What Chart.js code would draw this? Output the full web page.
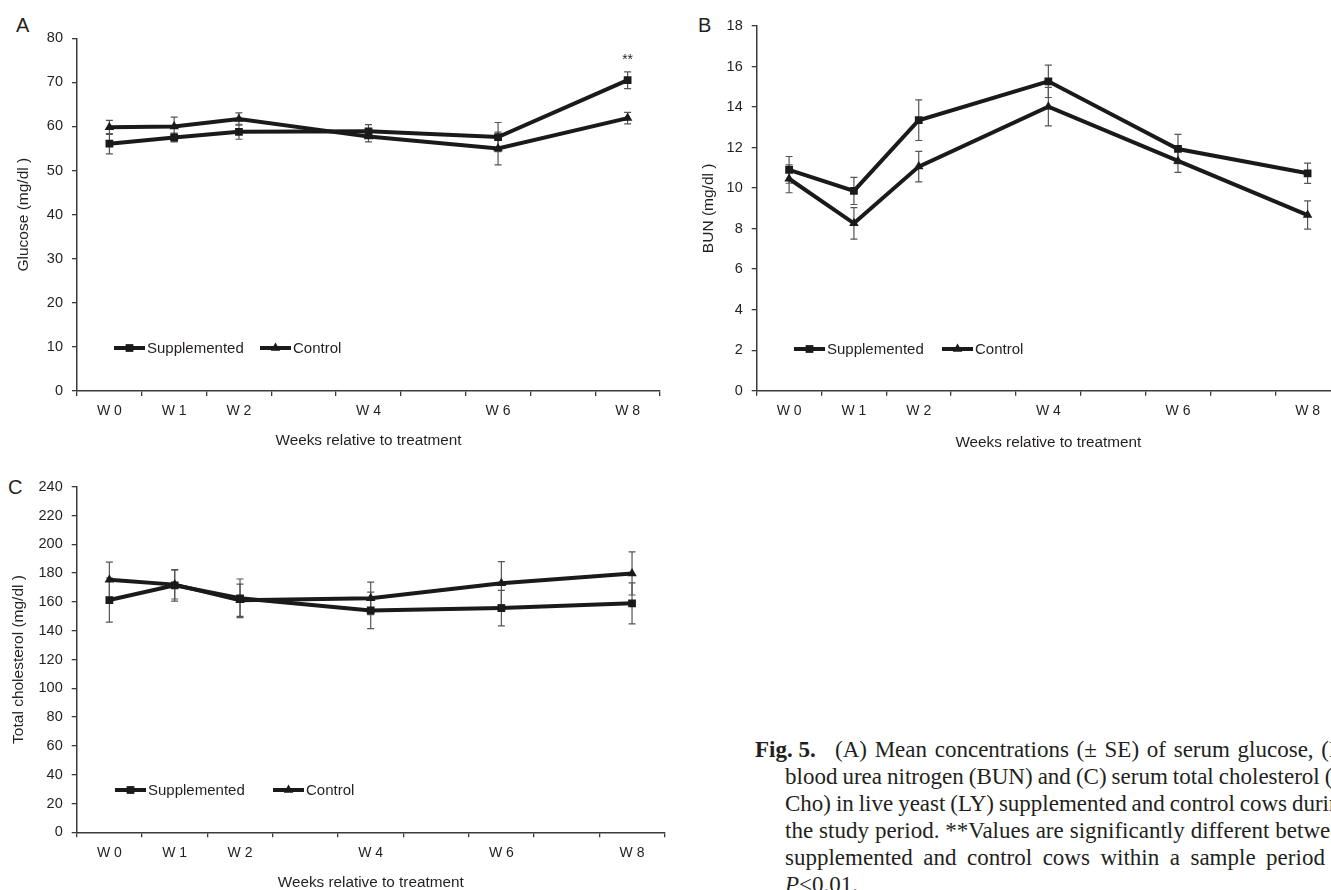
<!DOCTYPE html>
<html>
<head>
<meta charset="utf-8">
<script src="https://cdn.jsdelivr.net/npm/chart.js@4.4.0/dist/chart.umd.min.js"></script>
<style>
  html, body { margin: 0; padding: 0; background: #fff; overflow: hidden; width: 1331px; height: 890px; position: relative; }
  canvas { position: absolute; }
  .tag { position: absolute; font: 20px "Liberation Sans", Arial, sans-serif; color: #231f20; line-height: 20px; }
  .cap { position: absolute; white-space: nowrap; line-height: 27px; font-family: "Liberation Serif", "Times New Roman", serif; font-size: 23px; color: #231f20; }
</style>
</head>
<body>
<div class="tag" style="left:16px; top:15px;">A</div>
<div class="tag" style="left:698px; top:15px;">B</div>
<div class="tag" style="left:8px; top:477px;">C</div>

<canvas id="glucoseChart" width="680" height="460" style="left:0; top:0;"></canvas>
<canvas id="bunChart" width="680" height="460" style="left:680px; top:0;"></canvas>
<canvas id="choChart" width="690" height="460" style="left:0; top:450px;"></canvas>

<div class="cap" style="left:755px; top:736px;"><b>Fig. 5.</b></div>
<div class="cap fit" data-w="517" style="left:835px; top:736px;">(A) Mean concentrations (± SE) of serum glucose, (B)</div>
<div class="cap fit" data-w="567" style="left:785px; top:763px;">blood urea nitrogen (BUN) and (C) serum total cholesterol (T-</div>
<div class="cap fit" data-w="567" style="left:785px; top:790px;">Cho) in live yeast (LY) supplemented and control cows during</div>
<div class="cap fit" data-w="567" style="left:785px; top:817px;">the study period. **Values are significantly different between</div>
<div class="cap fit" data-w="567" style="left:785px; top:844px;">supplemented and control cows within a sample period at</div>
<div class="cap" style="left:785px; top:871px;"><i>P</i>&lt;0.01.</div>

<script>
// weeks on the x axis; only sampled weeks get a label
const allWeeks = ['W 0', 'W 1', 'W 2', 'W 3', 'W 4', 'W 5', 'W 6', 'W 7', 'W 8']
const sampledWeeks = ['W 0', 'W 1', 'W 2', 'W 4', 'W 6', 'W 8']

// (A) glucose, mg/dl
const glucoseSupplemented = [56.1, 57.5, 58.8, 58.9, 57.6, 70.5]
const glucoseSupplementedSE = [2.3, 1.0, 1.7, 1.5, 3.3, 1.9]
const glucoseControl = [59.8, 60.0, 61.7, 57.7, 55.0, 61.9]
const glucoseControlSE = [1.6, 2.1, 1.4, 1.2, 3.7, 1.3]
const glucoseSignificant = ['W 8']
const glucoseAxis = [0, 80, 10]

// (B) BUN, mg/dl
const bunSupplemented = [10.9, 9.86, 13.35, 15.27, 11.93, 10.73]
const bunSupplementedSE = [0.66, 0.67, 1.0, 0.8, 0.72, 0.5]
const bunControl = [10.46, 8.26, 11.06, 14.02, 11.34, 8.67]
const bunControlSE = [0.69, 0.78, 0.75, 0.95, 0.56, 0.7]
const bunAxis = [0, 18, 2]

// (C) total cholesterol, mg/dl
const choSupplemented = [161.3, 171.5, 162.5, 154.1, 155.7, 159.0]
const choSupplementedSE = [15.3, 11, 13.4, 12.7, 12.3, 14.2]
const choControl = [175.4, 172.0, 161.2, 162.5, 172.9, 179.8]
const choControlSE = [12.2, 10, 11.2, 11.3, 15.0, 15.0]
const choAxis = [0, 240, 20]

const ink = '#231f20'
const axisInk = '#3a3a3a'
const sans = '"Liberation Sans", Arial, sans-serif'

const errorBars = {
  id: 'errorBars',
  beforeDatasetsDraw(chart) {
    const { ctx } = chart
    const y = chart.scales.y
    ctx.save()
    ctx.strokeStyle = '#555'
    ctx.lineWidth = 1.2
    chart.data.datasets.forEach((d, di) => {
      chart.getDatasetMeta(di).data.forEach((pt, i) => {
        const v = d.data[i].y
        const top = y.getPixelForValue(v + d.se[i])
        const bot = y.getPixelForValue(v - d.se[i])
        ctx.beginPath()
        ctx.moveTo(pt.x, top); ctx.lineTo(pt.x, bot)
        ctx.moveTo(pt.x - 3.5, top); ctx.lineTo(pt.x + 3.5, top)
        ctx.moveTo(pt.x - 3.5, bot); ctx.lineTo(pt.x + 3.5, bot)
        ctx.stroke()
      })
    })
    ctx.restore()
  },
  afterDatasetsDraw(chart, args, opts) {
    if (!opts.stars || !opts.stars.length) return
    const { ctx } = chart
    const d = chart.data.datasets[0]
    const meta = chart.getDatasetMeta(0)
    ctx.save()
    ctx.fillStyle = ink
    ctx.font = '14px ' + sans
    ctx.textAlign = 'center'
    ctx.textBaseline = 'middle'
    meta.data.forEach((pt, i) => {
      if (opts.stars.includes(d.data[i].x)) {
        const top = chart.scales.y.getPixelForValue(d.data[i].y + d.se[i])
        ctx.fillText('**', pt.x, top - 12)
      }
    })
    ctx.restore()
  }
}

const insideLegend = {
  id: 'insideLegend',
  afterDraw(chart, args, opts) {
    const { ctx } = chart
    ctx.save()
    ctx.font = '15px ' + sans
    ctx.textBaseline = 'middle'
    chart.data.datasets.forEach((d, i) => {
      const x0 = opts.x[i]
      const y0 = opts.y
      ctx.strokeStyle = d.borderColor
      ctx.lineWidth = 4
      ctx.beginPath(); ctx.moveTo(x0, y0); ctx.lineTo(x0 + 31, y0); ctx.stroke()
      ctx.fillStyle = d.backgroundColor
      Chart.helpers.drawPoint(ctx, { pointStyle: d.pointStyle, radius: 5.5, borderWidth: 0, rotation: 0 }, x0 + 15.5, y0)
      ctx.fillStyle = ink
      ctx.fillText(d.label, x0 + 33, y0 + 1)
    })
    ctx.restore()
  }
}

function series(label, values, se, style) {
  return {
    label,
    data: values.map((v, i) => ({ x: sampledWeeks[i], y: v })),
    se,
    borderColor: '#1a1a1a',
    backgroundColor: '#1a1a1a',
    borderWidth: 4,
    pointStyle: style,
    pointRadius: 5.5,
    pointHoverRadius: 5.5,
    pointBorderWidth: 0,
    tension: 0
  }
}

function createPanel(element, yTitle, axis, supp, suppSE, ctrl, ctrlSE, box) {
  new Chart(element, {
    type: 'line',
    data: {
      datasets: [
        series('Supplemented', supp, suppSE, 'rect'),
        series('Control', ctrl, ctrlSE, 'triangle')
      ]
    },
    options: {
      responsive: false,
      animation: false,
      events: [],
      layout: { padding: box.padding },
      plugins: {
        legend: { display: false },
        tooltip: { enabled: false },
        insideLegend: box.legend,
        errorBars: { stars: box.stars || [] }
      },
      scales: {
        x: {
          type: 'category',
          labels: allWeeks,
          offset: true,
          grid: { offset: true, drawOnChartArea: false, drawTicks: true, tickLength: 5, color: axisInk, lineWidth: 1.3 },
          border: { color: axisInk, width: 1.5 },
          ticks: {
            color: ink,
            font: { family: sans, size: 14 },
            padding: 7,
            autoSkip: false,
            maxRotation: 0,
            callback: function (v) {
              const l = this.getLabelForValue(v)
              return sampledWeeks.includes(l) ? l : ''
            }
          },
          title: { display: true, text: 'Weeks relative to treatment', color: ink, font: { family: sans, size: 15.3 }, padding: 0 },
          afterFit: s => { s.height = box.xHeight }
        },
        y: {
          min: axis[0],
          max: axis[1],
          ticks: { stepSize: axis[2], color: ink, font: { family: sans, size: 14.5 }, padding: 9 },
          grid: { drawOnChartArea: false, tickLength: 5, color: axisInk, lineWidth: 1.3 },
          border: { color: axisInk, width: 1.5 },
          title: { display: true, text: yTitle, color: ink, font: { family: sans, size: 15.5 }, padding: { top: box.yTitlePad, bottom: 0 } },
          afterFit: s => { s.width = box.yWidth }
        }
      }
    },
    plugins: [errorBars, insideLegend]
  })
}

createPanel(document.getElementById('glucoseChart'), 'Glucose (mg/dl )', glucoseAxis,
  glucoseSupplemented, glucoseSupplementedSE, glucoseControl, glucoseControlSE,
  { padding: { top: 38.3, left: 0, right: 20, bottom: 10 }, yWidth: 77, xHeight: 59, yTitlePad: 14,
    legend: { x: [114, 260], y: 348 }, stars: glucoseSignificant })

createPanel(document.getElementById('bunChart'), 'BUN (mg/dl )', bunAxis,
  bunSupplemented, bunSupplementedSE, bunControl, bunControlSE,
  { padding: { top: 26, left: 0, right: 20, bottom: 8.3 }, yWidth: 76.7, xHeight: 61, yTitlePad: 19,
    legend: { x: [114, 262], y: 349 } })

createPanel(document.getElementById('choChart'), 'Total cholesterol (mg/dl )', choAxis,
  choSupplemented, choSupplementedSE, choControl, choControlSE,
  { padding: { top: 36.7, left: 0, right: 25.3, bottom: 17.7 }, yWidth: 76.7, xHeight: 60, yTitlePad: 9,
    legend: { x: [115, 273], y: 340 } })

// justify caption lines to the column width
document.querySelectorAll('.fit').forEach(el => {
  const target = +el.dataset.w
  const spaces = (el.textContent.match(/ /g) || []).length
  const extra = (target - el.getBoundingClientRect().width) / spaces
  el.style.wordSpacing = extra + 'px'
})
</script>
</body>
</html>
